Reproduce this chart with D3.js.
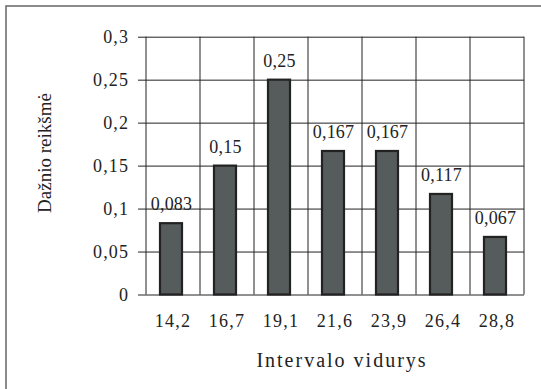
<!DOCTYPE html>
<html>
<head>
<meta charset="utf-8">
<script src="https://cdn.jsdelivr.net/npm/d3@7"></script>
<style>
  html, body { margin: 0; padding: 0; background: #fff; }
  svg { display: block; }
</style>
</head>
<body>
<svg id="chart" width="541" height="389"></svg>
<script>
// Interval midpoints and their relative frequencies
const categories = ["14,2", "16,7", "19,1", "21,6", "23,9", "26,4", "28,8"];
const values = [0.083, 0.15, 0.25, 0.167, 0.167, 0.117, 0.067];
const valueLabels = ["0,083", "0,15", "0,25", "0,167", "0,167", "0,117", "0,067"];
const yTicks = [0, 0.05, 0.1, 0.15, 0.2, 0.25, 0.3];
const yTickLabels = ["0", "0,05", "0,1", "0,15", "0,2", "0,25", "0,3"];
const xTitle = "Intervalo vidurys";
const yTitle = "Dažnio reikšmė";

const FONT = "'Liberation Serif', 'Times New Roman', 'DejaVu Serif', serif";
const INK = "#222";

const svg = d3.select("#chart");
const plot = { left: 146, right: 524, top: 36.7, bottom: 294.5 };

// Outer frame (its right and bottom edges fall outside the view)
svg.append("rect")
  .attr("x", 6).attr("y", 6)
  .attr("width", 700).attr("height", 700)
  .attr("fill", "none").attr("stroke", "#666").attr("stroke-width", 1.5);

const x = d3.scaleBand().domain(categories).range([plot.left, plot.right]).paddingInner(0).paddingOuter(0);
const y = d3.scaleLinear().domain([0, 0.3]).range([plot.bottom, plot.top]);

// Horizontal gridlines with left tick marks and labels
const yAxis = d3.axisLeft(y)
  .tickValues(yTicks)
  .tickSize(-(plot.right - plot.left))
  .tickPadding(0)
  .tickFormat((d, i) => yTickLabels[i]);

const gy = svg.append("g").attr("transform", `translate(${plot.left},0)`).call(yAxis)
  .attr("font-family", FONT);
gy.select(".domain").remove();
gy.selectAll(".tick line").attr("stroke", INK).attr("stroke-width", 1).attr("x1", -8);
gy.selectAll(".tick text")
  .attr("x", -17).attr("dy", "0.34em")
  .attr("font-family", FONT).attr("fill", INK)
  .attr("font-size", 18).attr("letter-spacing", 1.1)
  .attr("text-anchor", "end");

// Vertical gridlines at category boundaries
const bounds = categories.map(c => x(c)).concat([x(categories[categories.length - 1]) + x.bandwidth()]);
svg.append("g").selectAll("line").data(bounds).join("line")
  .attr("x1", d => d).attr("x2", d => d)
  .attr("y1", y(0.3)).attr("y2", y(0))
  .attr("stroke", INK).attr("stroke-width", 1);

// Category labels along the bottom
const xAxis = d3.axisBottom(x).tickSize(0).tickPadding(0);
const gx = svg.append("g").attr("transform", `translate(0,${plot.bottom})`).call(xAxis)
  .attr("font-family", FONT);
gx.select(".domain").remove();
gx.selectAll(".tick text")
  .attr("y", 32).attr("dy", 0)
  .attr("font-family", FONT).attr("fill", INK)
  .attr("font-size", 18).attr("letter-spacing", 1.2);

// Bars
const barW = 22;
svg.append("g").selectAll("rect").data(values).join("rect")
  .attr("x", (d, i) => x(categories[i]) + x.bandwidth() / 2 - barW / 2 - 2)
  .attr("y", d => y(d))
  .attr("width", barW)
  .attr("height", d => y(0) - y(d))
  .attr("fill", "#565b5b")
  .attr("stroke", INK)
  .attr("stroke-width", 2.2);

// Value labels above bars
svg.append("g").selectAll("text").data(values).join("text")
  .attr("x", (d, i) => x(categories[i]) + x.bandwidth() / 2 - 1.5)
  .attr("y", d => y(d) - 13)
  .attr("text-anchor", "middle")
  .attr("font-family", FONT).attr("fill", INK)
  .attr("font-size", 18).attr("letter-spacing", 0.2)
  .text((d, i) => valueLabels[i]);

// Axis titles
svg.append("text")
  .attr("x", 342).attr("y", 367)
  .attr("text-anchor", "middle")
  .attr("font-family", FONT).attr("fill", INK)
  .attr("font-size", 20).attr("letter-spacing", 2)
  .text(xTitle);

svg.append("text")
  .attr("transform", "translate(51,153) rotate(-90)")
  .attr("text-anchor", "middle")
  .attr("font-family", FONT).attr("fill", INK)
  .attr("font-size", 19)
  .text(yTitle);
</script>
</body>
</html>
